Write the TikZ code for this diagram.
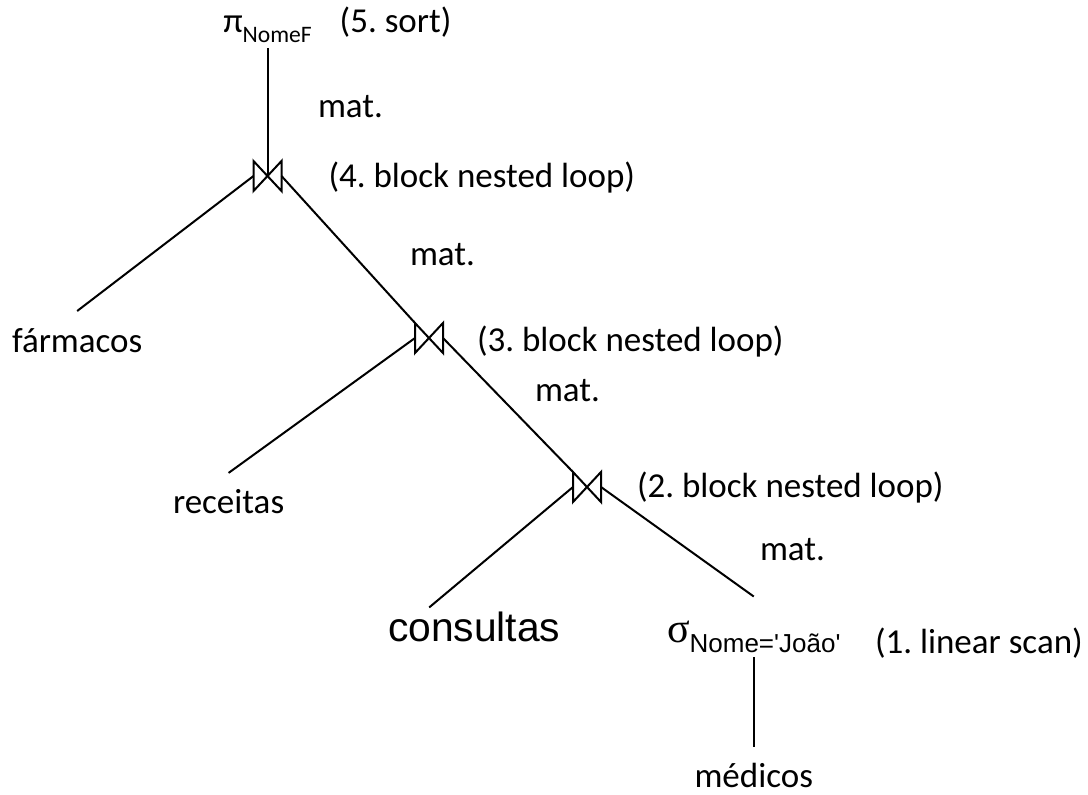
\documentclass[tikz,border=0pt]{standalone}
\usepackage{fontspec}
\setmainfont{Carlito}
\newfontfamily\arialfont{Liberation Sans}
\newfontfamily\timesfont{Liberation Serif}
\frenchspacing
\usetikzlibrary{positioning}
\tikzset{every node/.style={ % Sets the properties for each text
inner sep=0pt, outer sep=0pt,
font=\fontsize{17.5}{21}\selectfont},
txt/.style={anchor=base west}, % Texts are placed by their baseline
joinop/.style={minimum width=14pt, minimum height=15pt}, % Box of a join, the bowtie is drawn later
tree/.style={line width=1pt}}

\begin{document}
\begin{tikzpicture}[x=0.5pt, y=-0.5pt]
    \useasboundingbox (0,0) rectangle (1088,794);

    \node[joinop] (j4) at (267.5,176) {};
    \node[joinop] (j3) at (429,338) {};
    \node[joinop] (j2) at (587,487) {};

    \node[anchor=base] (proj) at (267.5,32) {π\raisebox{-5pt}{\fontsize{11.8}{12}\selectfont NomeF}};
    \node[base right=14pt of proj] (sort) {(5. sort)};
    \node[right=23.5pt of j4, yshift=-1pt] (nl4) {(4. block nested loop)};
    \node[right=17pt of j3, yshift=-2pt] (nl3) {(3. block nested loop)};
    \node[right=18pt of j2, yshift=-0.5pt] (nl2) {(2. block nested loop)};

    \node[txt] (farm) at (12,352) {fármacos};
    \node[txt] (rec) at (173,513) {receitas};
    \node[txt, font=\arialfont\fontsize{20.4}{24}\selectfont] (cons) at (388,641) {consultas};
    \node[txt] (sel) at (667,642) {{\timesfont\fontsize{21}{24}\selectfont σ}\raisebox{-5pt}{\arialfont\fontsize{13}{14}\selectfont Nome='João'}};
    \node[txt] (scan) at (875,653) {(1. linear scan)};
    \node[below=55.5pt of sel] (med) {médicos};

    \node[txt] (m4) at (318,117) {mat.};
    \node[txt] (m3) at (410,265) {mat.};
    \node[txt] (m2) at (535,401) {mat.};
    \node[txt] (m1) at (760,560) {mat.};

    \foreach \j in {j4,j3,j2}
        \draw[tree] (\j.north west) -- (\j.south east) -- (\j.north east) -- (\j.south west) -- cycle;

    \draw[tree, shorten <=3pt] (proj.south) -- (j4.center);
    \draw[tree] (j4.west) -- ([yshift=8.5pt]farm.north);
    \draw[tree] (j4.east) -- (j3.north west);
    \draw[tree] (j3.west) -- ([yshift=8pt]rec.north);
    \draw[tree] (j3.east) -- (j2.north west);
    \draw[tree] (j2.west) -- ([shift={(-22.5pt,2pt)}]cons.north);
    \draw[tree] (j2.east) -- ([yshift=12pt]sel.north);
    \draw[tree, shorten <=2.5pt, shorten >=8pt] (sel) -- (med);

\end{tikzpicture}
\end{document}
